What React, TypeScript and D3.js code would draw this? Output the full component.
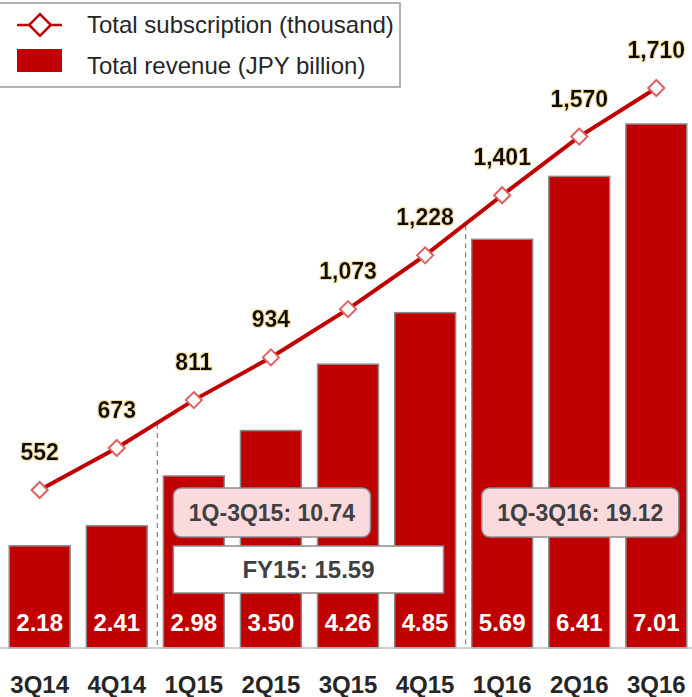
import React from 'react';
import * as d3 from 'd3';

const quarters = ['3Q14', '4Q14', '1Q15', '2Q15', '3Q15', '4Q15', '1Q16', '2Q16', '3Q16'];
const revenue = [2.18, 2.41, 2.98, 3.5, 4.26, 4.85, 5.69, 6.41, 7.01];
const subscriptions = [552, 673, 811, 934, 1073, 1228, 1401, 1570, 1710];
const boxLabels = ['1Q-3Q15: 10.74', 'FY15: 15.59', '1Q-3Q16: 19.12'];
const boxRanges = [['1Q15', '3Q15'], ['1Q15', '4Q15'], ['1Q16', '3Q16']];
const dividerAfter = ['4Q14', '4Q15'];

const W = 692, H = 697;
const baseline = 648;
const RED = '#c00000';
const narrow = '"Liberation Sans Narrow", "Arial Narrow", sans-serif';
const sans = '"Liberation Sans", Arial, sans-serif';

export default function App() {
    const x = d3.scaleBand().domain(quarters).range([1.5, 694.5]).paddingInner(0.21).paddingOuter(0.1);
    const yBar = d3.scaleLinear().domain([1.01, 7.01]).range([baseline, 124]);
    const yLine = d3.scaleLinear().domain([97, 1710]).range([baseline, 88]);
    const cx = (q: string) => (x(q) as number) + x.bandwidth() / 2;

    const line = d3.line<number>()
        .x((_, i) => cx(quarters[i]))
        .y(d => yLine(d));

    const diamond = d3.symbol().type(d3.symbolDiamond2).size(165)();
    const legendDiamond = d3.symbol().type(d3.symbolDiamond2).size(300)();

    return (
        <div style={{ position: 'absolute', left: 0, top: 0 }}>
            <svg width={W} height={H} style={{ display: 'block', background: '#fff' }}>
                <defs>
                    <filter id="glow" x="-20%" y="-20%" width="140%" height="140%">
                        <feMorphology in="SourceAlpha" operator="dilate" radius="0.7" result="d" />
                        <feFlood floodColor="#e8b84a" floodOpacity="0.45" />
                        <feComposite in2="d" operator="in" result="g" />
                        <feMerge><feMergeNode in="g" /><feMergeNode in="SourceGraphic" /></feMerge>
                    </filter>
                </defs>

                {/* bars */}
                {quarters.map((q, i) => (
                    <rect key={q} x={x(q)} y={yBar(revenue[i])} width={x.bandwidth()}
                        height={baseline - yBar(revenue[i])} fill={RED} stroke="#8c8c8c" strokeWidth={1.5} />
                ))}
                <line x1={0} x2={W} y1={baseline} y2={baseline} stroke="#bfbfbf" strokeWidth={1.5} />

                {/* dashed dividers, starting where the line crosses */}
                {dividerAfter.map(q => {
                    const i = quarters.indexOf(q);
                    const xx = (x(q) as number) + x.bandwidth() + x.step() * x.paddingInner() / 2 + 2;
                    const top = (yLine(subscriptions[i]) + yLine(subscriptions[i + 1])) / 2;
                    return <line key={q} x1={xx} x2={xx} y1={top} y2={baseline}
                        stroke="#808080" strokeWidth={1.2} strokeDasharray="5,4" />;
                })}

                {/* bar values */}
                {quarters.map((q, i) => (
                    <text key={q} x={cx(q)} y={631} textAnchor="middle" fill="#fff"
                        fontFamily={narrow} fontWeight="bold" fontSize={24}>{revenue[i].toFixed(2)}</text>
                ))}

                {/* annotation boxes */}
                {boxLabels.map((label, k) => {
                    const [from, to] = boxRanges[k];
                    const fy = k === 1;
                    const x0 = (x(from) as number) + 10;
                    const x1 = (x(to) as number) + x.bandwidth() - (fy ? 12 : 8);
                    const y0 = fy ? 546 : 488;
                    const h = fy ? 47 : 49;
                    return (
                        <g key={label}>
                            <rect x={x0} y={y0} width={x1 - x0} height={h} rx={fy ? 0 : 8}
                                fill={fy ? '#ffffff' : '#fadadd'} stroke="#8c8c8c" strokeWidth={1.5} />
                            <text x={(x0 + x1) / 2} y={y0 + h / 2 + 8} textAnchor="middle" fill="#404040"
                                fontFamily={sans} fontWeight="bold" fontSize={fy ? 24 : 23}>{label}</text>
                        </g>
                    );
                })}

                {/* subscription line */}
                <path d={line(subscriptions) ?? ''} fill="none" stroke={RED} strokeWidth={4} />
                {subscriptions.map((v, i) => (
                    <path key={i} d={diamond ?? ''} transform={`translate(${cx(quarters[i])},${yLine(v)})`}
                        fill="#fff" stroke="#e06060" strokeWidth={2} />
                ))}
                {subscriptions.map((v, i) => (
                    <text key={i} x={cx(quarters[i])} y={yLine(v) - 30} textAnchor="middle" fill="#111"
                        fontFamily={narrow} fontWeight="bold" fontSize={23} filter="url(#glow)">
                        {d3.format(',')(v)}
                    </text>
                ))}

                {/* category axis */}
                {quarters.map(q => (
                    <text key={q} x={cx(q)} y={693} textAnchor="middle" fill="#262626"
                        fontFamily={narrow} fontWeight="bold" fontSize={24}>{q}</text>
                ))}

                {/* legend */}
                <rect x={-2} y={3} width={402} height={84} fill="#fff" stroke="#999" strokeWidth={1.5} />
                <line x1={17} x2={62} y1={25} y2={25} stroke={RED} strokeWidth={2.5} />
                <path d={legendDiamond ?? ''} transform="translate(40,25)"
                    fill="#fff" stroke={RED} strokeWidth={2.5} />
                <text x={87} y={33} fill="#262626" fontFamily={sans} fontSize={24}>Total subscription (thousand)</text>
                <rect x={17} y={49} width={45} height={23} fill={RED} />
                <text x={87} y={74} fill="#262626" fontFamily={sans} fontSize={24}>Total revenue (JPY billion)</text>
            </svg>
        </div>
    );
}
